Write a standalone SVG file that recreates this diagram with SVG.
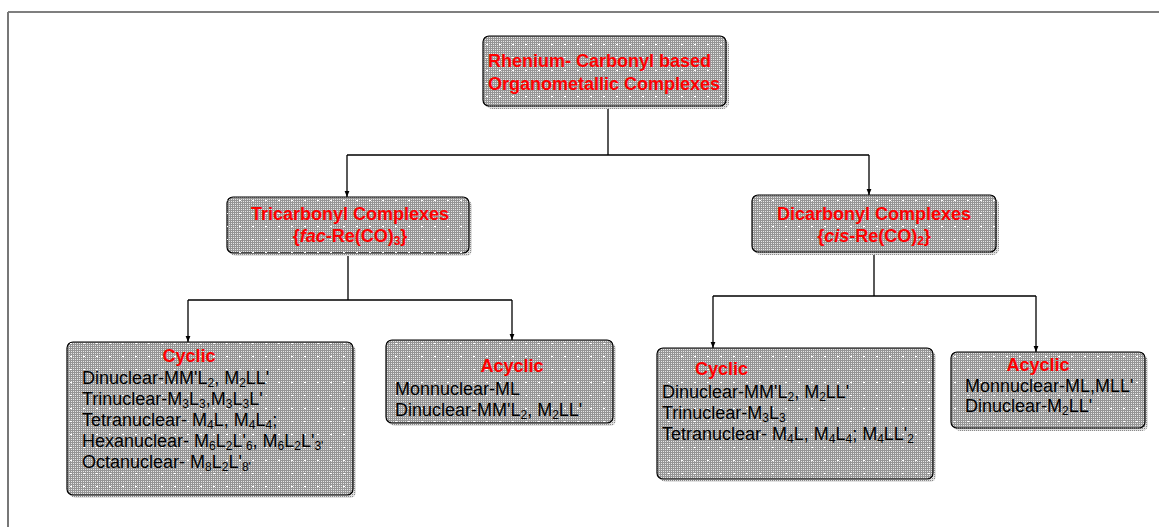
<svg xmlns="http://www.w3.org/2000/svg" width="1159" height="527" viewBox="0 0 1159 527">
<defs>
<pattern id="grid" width="2" height="2" patternUnits="userSpaceOnUse">
<rect width="2" height="2" fill="#959595"/>
<rect x="1" y="1" width="1" height="1" fill="#e6e6e6"/>
</pattern>
<pattern id="dots" width="13" height="13" patternUnits="userSpaceOnUse">
<rect x="5" y="5" width="2" height="1" fill="#ffffff"/>
</pattern>
<pattern id="sgrid" width="2" height="2" patternUnits="userSpaceOnUse">
<rect width="2" height="2" fill="#e0e0e0"/>
<rect x="0" y="0" width="1" height="1" fill="#8a8a8a"/>
</pattern>
<marker id="arr" viewBox="0 0 10 10" refX="10" refY="5" markerWidth="6" markerHeight="8" orient="auto" markerUnits="userSpaceOnUse">
<path d="M0,1 L10,5 L0,9 Z" fill="#000"/>
</marker>
</defs>
<style>
.sh{fill:url(#sgrid);}
.bx{fill:url(#grid);stroke:#000;stroke-width:1.2;}
.dt{fill:url(#dots);}
.ttl{font-family:"Liberation Sans",Arial,sans-serif;font-weight:bold;font-size:18px;fill:#ff0000;}
.bd{font-family:"Liberation Sans",Arial,sans-serif;font-size:18px;fill:#000;}
.sub{font-size:12px;}
.ln{stroke:#000;stroke-width:1.3;fill:none;}
</style>
<g id="frame">
<line x1="8" y1="12" x2="1159" y2="12" stroke="#000" stroke-width="1.2"/>
<line x1="8" y1="12" x2="8" y2="527" stroke="#777" stroke-width="2"/>
</g>
<g id="connectors">
<path class="ln" d="M608,106 V155 M347,155 H869"/>
<path class="ln" d="M347,155 V197" marker-end="url(#arr)"/>
<path class="ln" d="M869,155 V195" marker-end="url(#arr)"/>
<path class="ln" d="M348,253 V300 M188,300 H512"/>
<path class="ln" d="M188,300 V342" marker-end="url(#arr)"/>
<path class="ln" d="M512,300 V340" marker-end="url(#arr)"/>
<path class="ln" d="M874,252 V296 M713,296 H1036"/>
<path class="ln" d="M713,296 V348" marker-end="url(#arr)"/>
<path class="ln" d="M1036,296 V352" marker-end="url(#arr)"/>
</g>
<g id="root">
<rect class="sh" x="486" y="39" width="243" height="70" rx="6"/>
<rect class="bx" x="483" y="36" width="243" height="70" rx="6"/>
<rect class="dt" x="483" y="36" width="243" height="70" rx="6"/>
<text class="ttl" x="488" y="67">Rhenium- Carbonyl based</text>
<text class="ttl" x="488" y="90">Organometallic Complexes</text>
</g>
<g id="tricarbonyl">
<rect class="sh" x="230" y="200" width="242" height="56" rx="6"/>
<rect class="bx" x="227" y="197" width="242" height="56" rx="6"/>
<rect class="dt" x="227" y="197" width="242" height="56" rx="6"/>
<text class="ttl" x="350" y="220" text-anchor="middle">Tricarbonyl Complexes</text>
<text class="ttl" x="350" y="242" text-anchor="middle">{<tspan font-style="italic">fac</tspan>-Re(CO)<tspan class="sub" dy="3">3</tspan><tspan dy="-3">}</tspan></text>
</g>
<g id="dicarbonyl">
<rect class="sh" x="755" y="198" width="244" height="57" rx="6"/>
<rect class="bx" x="752" y="195" width="244" height="57" rx="6"/>
<rect class="dt" x="752" y="195" width="244" height="57" rx="6"/>
<text class="ttl" x="874" y="220" text-anchor="middle">Dicarbonyl Complexes</text>
<text class="ttl" x="874" y="242" text-anchor="middle">{<tspan font-style="italic">cis</tspan>-Re(CO)<tspan class="sub" dy="3">2</tspan><tspan dy="-3">}</tspan></text>
</g>
<g id="tri-cyclic">
<rect class="sh" x="70" y="345" width="286" height="153" rx="6"/>
<rect class="bx" x="67" y="342" width="286" height="153" rx="6"/>
<rect class="dt" x="67" y="342" width="286" height="153" rx="6"/>
<text class="ttl" x="189" y="362" text-anchor="middle">Cyclic</text>
<text class="bd" x="82" y="384">Dinuclear-MM'L<tspan class="sub" dy="3">2</tspan><tspan dy="-3">, M</tspan><tspan class="sub" dy="3">2</tspan><tspan dy="-3">LL'</tspan></text>
<text class="bd" x="82" y="405">Trinuclear-M<tspan class="sub" dy="3">3</tspan><tspan dy="-3">L</tspan><tspan class="sub" dy="3">3</tspan><tspan dy="-3">,M</tspan><tspan class="sub" dy="3">3</tspan><tspan dy="-3">L</tspan><tspan class="sub" dy="3">3</tspan><tspan dy="-3">L'</tspan></text>
<text class="bd" x="82" y="426">Tetranuclear- M<tspan class="sub" dy="3">4</tspan><tspan dy="-3">L, M</tspan><tspan class="sub" dy="3">4</tspan><tspan dy="-3">L</tspan><tspan class="sub" dy="3">4</tspan><tspan dy="-3">;</tspan></text>
<text class="bd" x="82" y="447">Hexanuclear- M<tspan class="sub" dy="3">6</tspan><tspan dy="-3">L</tspan><tspan class="sub" dy="3">2</tspan><tspan dy="-3">L'</tspan><tspan class="sub" dy="3">6</tspan><tspan dy="-3">, M</tspan><tspan class="sub" dy="3">6</tspan><tspan dy="-3">L</tspan><tspan class="sub" dy="3">2</tspan><tspan dy="-3">L'</tspan><tspan class="sub" dy="3">3'</tspan></text>
<text class="bd" x="82" y="468">Octanuclear- M<tspan class="sub" dy="3">8</tspan><tspan dy="-3">L</tspan><tspan class="sub" dy="3">2</tspan><tspan dy="-3">L'</tspan><tspan class="sub" dy="3">8'</tspan></text>
</g>
<g id="tri-acyclic">
<rect class="sh" x="389" y="343" width="227" height="83" rx="6"/>
<rect class="bx" x="386" y="340" width="227" height="83" rx="6"/>
<rect class="dt" x="386" y="340" width="227" height="83" rx="6"/>
<text class="ttl" x="512" y="372" text-anchor="middle">Acyclic</text>
<text class="bd" x="395" y="395">Monnuclear-ML</text>
<text class="bd" x="395" y="416">Dinuclear-MM'L<tspan class="sub" dy="3">2</tspan><tspan dy="-3">, M</tspan><tspan class="sub" dy="3">2</tspan><tspan dy="-3">LL'</tspan></text>
</g>
<g id="di-cyclic">
<rect class="sh" x="660" y="351" width="276" height="131" rx="6"/>
<rect class="bx" x="657" y="348" width="276" height="131" rx="6"/>
<rect class="dt" x="657" y="348" width="276" height="131" rx="6"/>
<text class="ttl" x="695" y="375">Cyclic</text>
<text class="bd" x="662" y="398">Dinuclear-MM'L<tspan class="sub" dy="3">2</tspan><tspan dy="-3">, M</tspan><tspan class="sub" dy="3">2</tspan><tspan dy="-3">LL'</tspan></text>
<text class="bd" x="662" y="419">Trinuclear-M<tspan class="sub" dy="3">3</tspan><tspan dy="-3">L</tspan><tspan class="sub" dy="3">3</tspan></text>
<text class="bd" x="662" y="440">Tetranuclear- M<tspan class="sub" dy="3">4</tspan><tspan dy="-3">L, M</tspan><tspan class="sub" dy="3">4</tspan><tspan dy="-3">L</tspan><tspan class="sub" dy="3">4</tspan><tspan dy="-3">; M</tspan><tspan class="sub" dy="3">4</tspan><tspan dy="-3">LL'</tspan><tspan class="sub" dy="3">2</tspan></text>
</g>
<g id="di-acyclic">
<rect class="sh" x="954" y="355" width="194" height="76" rx="6"/>
<rect class="bx" x="951" y="352" width="194" height="76" rx="6"/>
<rect class="dt" x="951" y="352" width="194" height="76" rx="6"/>
<text class="ttl" x="1038" y="371" text-anchor="middle">Acyclic</text>
<text class="bd" x="965" y="392">Monnuclear-ML,MLL'</text>
<text class="bd" x="965" y="412">Dinuclear-M<tspan class="sub" dy="3">2</tspan><tspan dy="-3">LL'</tspan></text>
</g>
</svg>
